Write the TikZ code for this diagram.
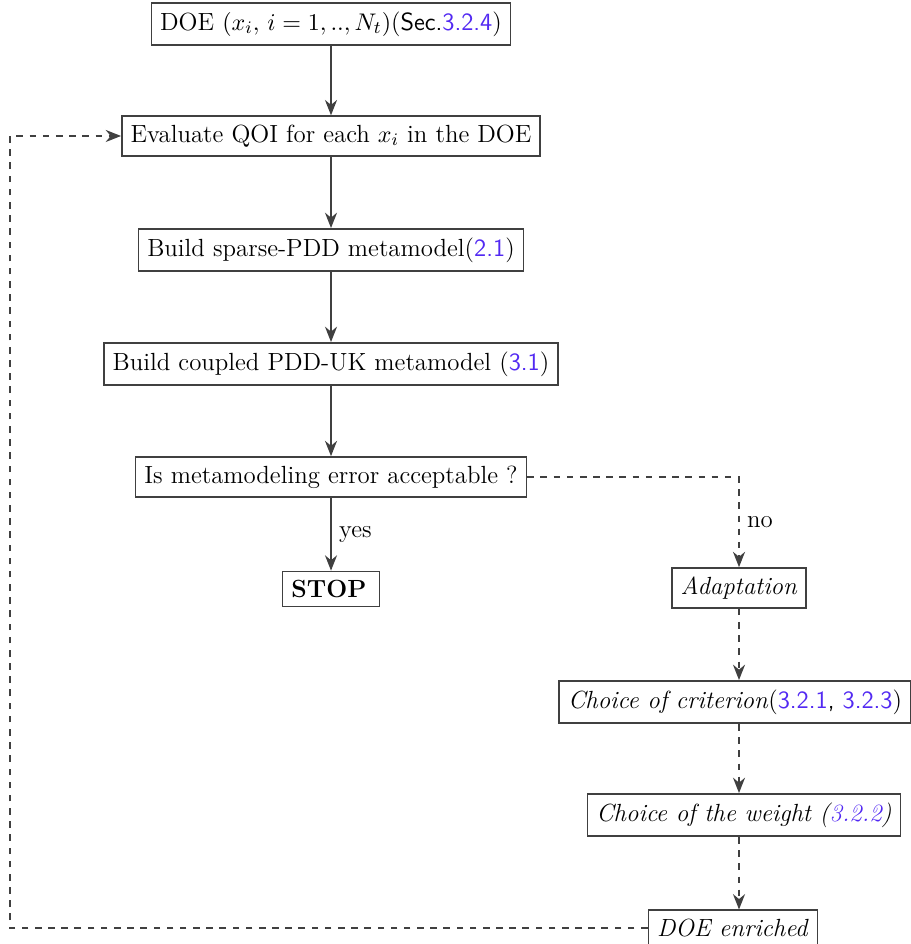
\documentclass[tikz,border=0pt]{standalone}
\usetikzlibrary{arrows.meta}
\definecolor{lien}{rgb}{0.32,0.16,0.95}
\begin{document}
\begin{tikzpicture}[x=0.016cm, y=-0.016cm]
			\tikzset{boite/.style={draw=black!75, line width=0.7pt, inner sep=4pt, font=\fontsize{11.3}{13}\selectfont}, fleche/.style={-{Stealth[length=7pt, width=5.5pt]}, draw=black!75, line width=0.7pt}, tirets/.style={fleche, dashed}};

			\useasboundingbox (0,0) rectangle (910,944);

			\node[boite] (doe)     at (331,  24) {DOE $(x_i,\, i=1,..,N_t)$(\textsf{Sec.\textcolor{lien}{3.2.4}})};
			\node[boite] (eval)    at (331, 136) {Evaluate QOI for each $x_i$ in the DOE};
			\node[boite] (sparse)  at (331, 250) {Build sparse-PDD metamodel(\textsf{\textcolor{lien}{2.1}})};
			\node[boite] (couple)  at (331, 364) {Build coupled PDD-UK metamodel (\textsf{\textcolor{lien}{3.1}})};
			\node[boite] (test)    at (331, 477) {Is metamodeling error acceptable ?};
			\node[boite] (stop)    at (331, 589) {\textbf{STOP}\,};

			\node[boite] (adapt)   at (739, 588) {\textit{Adaptation}};
			\node[boite] (critere) at (735, 702) {\textit{Choice of criterion}(\textsf{\textcolor{lien}{3.2.1}, \textcolor{lien}{3.2.3}})};
			\node[boite] (poids)   at (744, 815) {\textit{Choice of the weight (\textcolor{lien}{3.2.2})}};
			\node[boite] (enrichi) at (733, 928) {\textit{DOE enriched}};

			\coordinate (retour) at (10, 928);

			\draw[fleche] (doe) to (eval);
			\draw[fleche] (eval) to (sparse);
			\draw[fleche] (sparse) to (couple);
			\draw[fleche] (couple) to (test);
			\draw[fleche] (test) to node[right, font=\fontsize{11.3}{13}\selectfont] {yes} (stop);

			\draw[tirets] (test.east) -| node[pos=0.75, right, font=\fontsize{11.3}{13}\selectfont] {no} (adapt.north);
			\draw[tirets] (adapt.south) to (adapt.south |- critere.north);
			\draw[tirets] (adapt.south |- critere.south) to (adapt.south |- poids.north);
			\draw[tirets] (adapt.south |- poids.south) to (adapt.south |- enrichi.north);
			\draw[tirets] (enrichi.west) -- (retour) |- (eval.west);

		\end{tikzpicture}
\end{document}
